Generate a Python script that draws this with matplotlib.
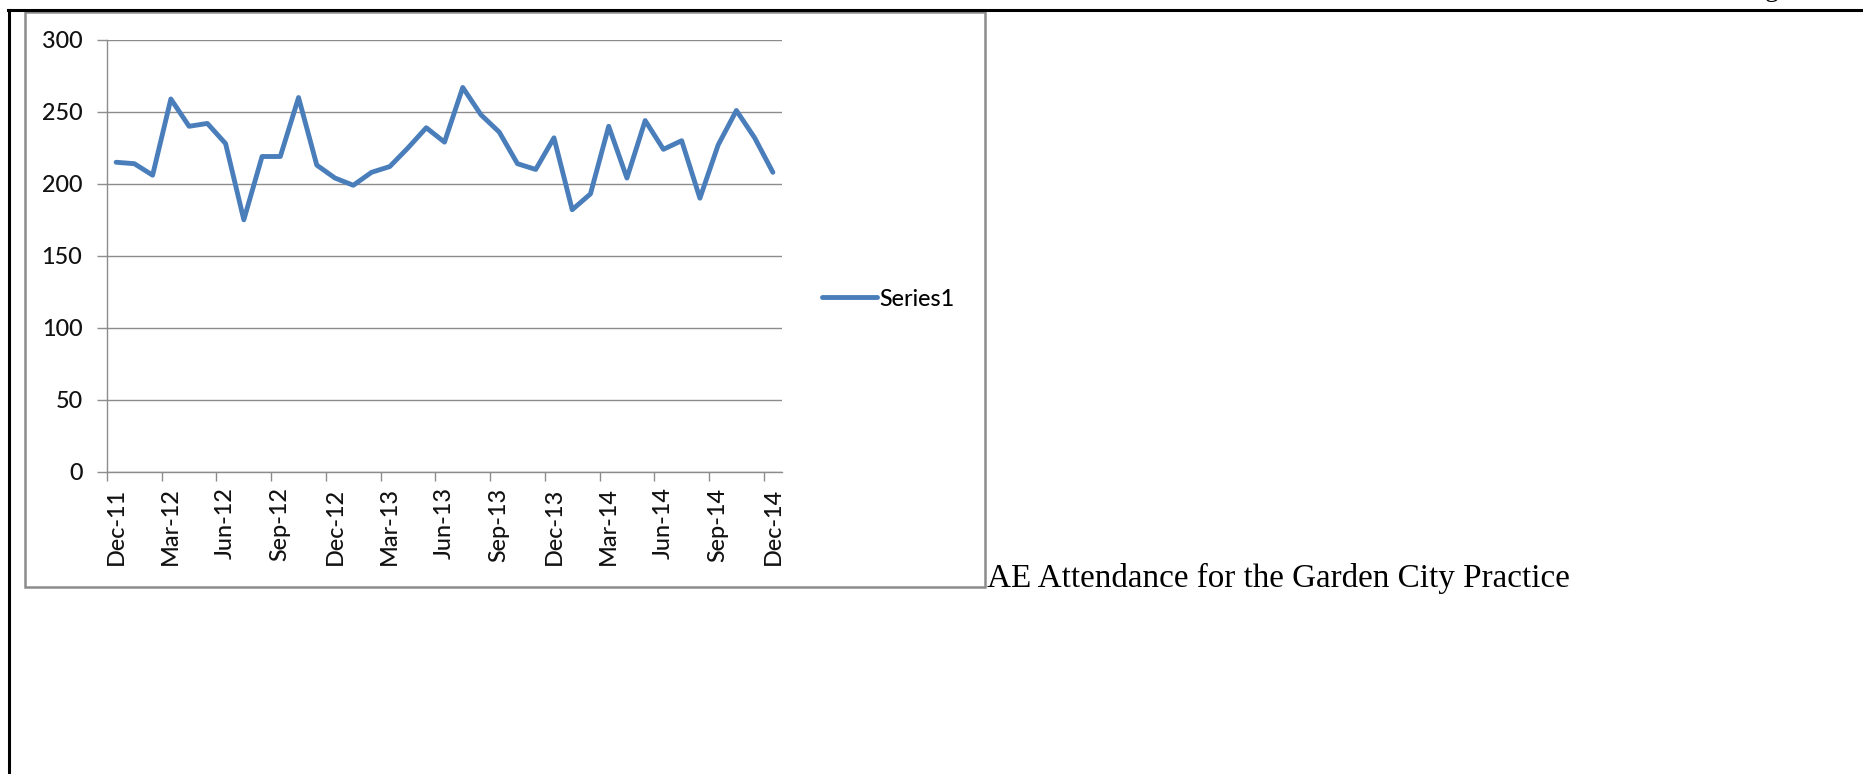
import matplotlib
matplotlib.use("Agg")
import matplotlib.pyplot as plt
from matplotlib.lines import Line2D
from matplotlib.patches import Rectangle

# Monthly AE attendance, Dec-11 .. Dec-14
attendance = [215, 214, 206, 259, 240, 242, 228, 175, 219, 219, 260, 213,
              204, 199, 208, 212, 225, 239, 229, 267, 248, 236, 214, 210,
              232, 182, 193, 240, 204, 244, 224, 230, 190, 227, 251, 232, 208]
tick_labels = ['Dec-11', 'Mar-12', 'Jun-12', 'Sep-12', 'Dec-12', 'Mar-13', 'Jun-13',
               'Sep-13', 'Dec-13', 'Mar-14', 'Jun-14', 'Sep-14', 'Dec-14']
y_ticks = [0, 50, 100, 150, 200, 250, 300]
series_name = 'Series1'
caption = 'AE Attendance for the Garden City Practice'

W, H = 1863, 774
fig = plt.figure(figsize=(W / 100, H / 100), dpi=100)
fig.patch.set_facecolor('white')

def fx(px):
    return px / W

def fy(py):
    return 1 - py / H

grey = '#8c8c8c'
blue = '#4A7EBB'
label_font = 'Lato'
label_size = 16.8
label_weight = 'medium'
label_color = '#111111'

# page rules of the document
fig.add_artist(Line2D([fx(8), 1], [fy(9.5), fy(9.5)], color='black', lw=2.2))
fig.add_artist(Line2D([fx(9), fx(9)], [0, fy(9.5)], color='black', lw=2.2))

# chart frame
fig.add_artist(Rectangle((fx(24.5), fy(587)), fx(985) - fx(24.5), fy(12) - fy(587),
                         transform=fig.transFigure, fill=False, edgecolor=grey, lw=1.8))

# plot area
left, right, top, bottom = 107, 782, 40, 471.5
ax = fig.add_axes([fx(left), fy(bottom), fx(right) - fx(left), fy(top) - fy(bottom)])
months = list(range(len(attendance)))
ax.plot(months, attendance, color=blue, lw=3.5, solid_joinstyle='round',
        solid_capstyle='round', label=series_name)

ax.set_xlim(-0.5, len(attendance) - 0.5)
ax.set_ylim(0, 300)
ax.set_yticks(y_ticks)
ax.set_yticklabels([str(v) for v in y_ticks], fontfamily=label_font,
                   fontsize=label_size, fontweight=label_weight, color=label_color)
ax.set_xticks(months[::3])
ax.set_xticklabels(tick_labels, rotation=90, fontfamily=label_font,
                   fontsize=label_size, fontweight=label_weight, color=label_color)
ax.set_xticks([m - 0.5 for m in months[::3]], minor=True)

ax.grid(axis='y', color=grey, lw=1.0)
ax.set_axisbelow(True)
for s in ['top', 'right']:
    ax.spines[s].set_visible(False)
for s in ['left', 'bottom']:
    ax.spines[s].set_color(grey)
    ax.spines[s].set_linewidth(1.0)
ax.tick_params(axis='y', length=7.2, width=1.0, color=grey, pad=10.5)
ax.tick_params(axis='x', which='major', length=0, pad=11.5)
ax.tick_params(axis='x', which='minor', length=6.5, width=1.0, color=grey)

fig.legend(loc='center left', bbox_to_anchor=(fx(822), fy(299)), frameon=False,
           borderpad=0, borderaxespad=0, handlelength=2.35, handletextpad=0.12,
           prop={'family': label_font, 'size': label_size, 'weight': label_weight})

# caption next to the chart, sitting on the frame's baseline
cap = fig.text(fx(987), fy(586.5), caption, fontfamily='Liberation Serif',
               fontsize=20, color='black', ha='left', va='baseline')
renderer = fig.canvas.get_renderer()
w = cap.get_window_extent(renderer).width
cap.set_fontsize(20 * 584 / w)

# cut-off glyph at the top of the page
fig.text(fx(1772), fy(-4), 'g', fontfamily='Liberation Serif', fontsize=20,
         ha='center', va='baseline', color='black')

fig.savefig('out.png', dpi=100, facecolor='white')
